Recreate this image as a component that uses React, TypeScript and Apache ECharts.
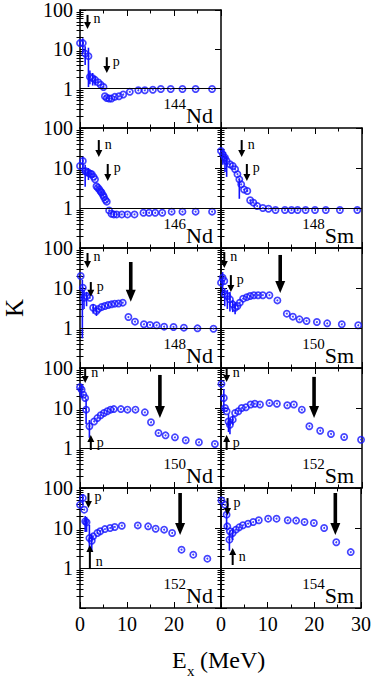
import React, { useEffect, useRef } from 'react';
import * as echarts from 'echarts';

const FONT = '"Liberation Serif", "Times New Roman", serif';
const BLUE = '#1414ff';

// x axis
const xMin = 0;
const xMax = 30;
const xInterval = 10;
// y axis (log)
const yMin = 0.1;
const yMax = 100;
const yMajorTicks = [0.1, 1, 10, 100];
const yMinorTicks = [0.2, 0.3, 0.4, 0.5, 0.6, 0.7, 0.8, 0.9, 2, 3, 4, 5, 6, 7, 8, 9, 20, 30, 40, 50, 60, 70, 80, 90];
const yLabelValues = [1, 10, 100];

// data: [Ex (MeV), K]
const nd144 = [[0, 14.4], [0.6, 14.4], [1.1, 7.8], [1.8, 6.7], [2.1, 2.0], [2.7, 1.85], [3.2, 1.68], [3.9, 1.44], [4.4, 1.26], [5.0, 1.1], [5.3, 0.64], [5.7, 0.58], [6.2, 0.56], [6.7, 0.56], [7.4, 0.62], [8.3, 0.64], [9.2, 0.71], [10.6, 0.83], [12.4, 0.91], [13.8, 0.91], [15.5, 0.94], [17.2, 0.98], [19.3, 0.98], [21.8, 0.98], [24.6, 0.98], [28.1, 0.98]];
const nd146 = [[0, 11.2], [0.6, 15], [1.1, 8.4], [1.5, 7.8], [1.8, 7.6], [2.2, 7.2], [2.5, 7.0], [2.9, 6.0], [3.2, 5.2], [3.5, 3.5], [3.8, 3.2], [4.1, 2.9], [4.4, 2.6], [4.6, 2.4], [4.9, 2.1], [5.1, 1.88], [5.4, 1.6], [5.7, 1.44], [6.2, 0.87], [6.7, 0.72], [7.2, 0.69], [7.8, 0.69], [8.9, 0.69], [10.1, 0.69], [11.6, 0.69], [13.5, 0.76], [14.7, 0.76], [16.0, 0.76], [17.5, 0.76], [19.5, 0.81], [21.8, 0.81], [24.6, 0.81], [28.1, 0.81]];
const sm148 = [[0, 26.7], [0.4, 22], [0.85, 18], [1.2, 15], [1.9, 12.4], [2.5, 11.2], [3.0, 9.3], [3.5, 7.0], [3.9, 5.2], [4.3, 3.9], [4.9, 2.9], [5.6, 2.66], [6.2, 1.56], [6.9, 1.36], [7.7, 1.12], [8.9, 1.0], [10.1, 0.96], [11.6, 0.89], [13.6, 0.89], [15.0, 0.89], [16.3, 0.89], [18.0, 0.89], [20.0, 0.89], [22.3, 0.89], [25.3, 0.89], [29.0, 0.89]];
const nd148 = [[0.15, 20], [0.6, 10.2], [0.85, 5.7], [1.4, 6.3], [2.1, 5.7], [2.8, 3.2], [3.5, 2.66], [3.9, 3.0], [4.6, 3.35], [5.3, 3.55], [6.0, 3.75], [6.7, 3.9], [7.4, 4.05], [8.2, 4.1], [9.1, 4.3], [10.3, 1.88], [11.7, 1.44], [13.6, 1.24], [14.9, 1.19], [16.3, 1.17], [17.9, 1.08], [19.9, 1.06], [22.1, 1.02], [25.0, 0.98], [28.4, 0.96]];
const sm150 = [[0, 13.6], [0.35, 18.1], [0.7, 15], [0.8, 7.0], [1.35, 6.3], [1.9, 5.2], [2.5, 3.9], [3.0, 3.2], [3.5, 3.55], [4.0, 4.3], [4.7, 5.4], [5.5, 5.9], [6.2, 6.3], [7.0, 6.6], [7.9, 6.6], [8.9, 6.6], [10.3, 6.6], [12.0, 4.9], [14.0, 2.28], [15.3, 1.92], [16.7, 1.65], [18.2, 1.5], [20.4, 1.41], [22.6, 1.31], [25.7, 1.24], [29.2, 1.17]];
const nd150 = [[0, 33], [0.35, 28.7], [0.7, 21.5], [1.1, 17.8], [1.3, 9.1], [2.0, 3.5], [3.0, 4.6], [3.7, 5.6], [4.4, 6.6], [5.1, 7.5], [5.8, 8.3], [6.5, 9.1], [7.2, 9.4], [8.7, 9.4], [10.1, 9.1], [11.8, 9.1], [13.8, 7.8], [15.1, 4.4], [16.7, 2.37], [18.2, 2.07], [20.2, 1.85], [22.5, 1.56], [25.3, 1.39], [28.7, 1.26]];
const sm152 = [[0.1, 40], [0.6, 17.8], [0.85, 10], [1.2, 8.3], [1.6, 4.6], [1.9, 3.8], [2.5, 5.1], [3.0, 7.5], [3.7, 8.3], [4.4, 10], [5.3, 10.4], [6.3, 12.2], [7.2, 12.8], [8.3, 12.2], [10.3, 13.3], [11.9, 12.8], [14.1, 11.7], [15.5, 12.2], [17.2, 9.1], [18.8, 3.5], [21.1, 2.7], [23.4, 2.24], [26.2, 1.88], [29.8, 1.61]];
const nd152 = [[0, 38], [0.6, 56], [0.9, 28.7], [1.1, 14.7], [1.4, 13.9], [2.0, 5.6], [2.5, 4.8], [2.8, 6.2], [3.7, 7.5], [4.3, 8.3], [5.3, 9.4], [6.4, 10], [7.4, 10.6], [8.9, 11.4], [12.3, 11.6], [14.5, 11], [16.1, 9.6], [17.9, 9.1], [19.6, 7.5], [21.6, 2.87], [24.1, 2.15], [27.1, 1.71]];
const sm154 = [[0.1, 49], [0.85, 38], [1.2, 21.5], [1.35, 11], [1.9, 8.3], [1.8, 5.1], [2.5, 7.5], [3.2, 9.1], [3.9, 10.4], [4.7, 11.7], [5.8, 12.8], [6.9, 14.1], [8.1, 15.6], [10.1, 17.1], [11.9, 17.1], [14.3, 15.6], [16.1, 15.3], [17.9, 14.1], [19.9, 13.3], [22.1, 10], [24.7, 4.4], [27.8, 2.5]];

// error bars: [Ex, low, high]
const nd144Err = [[0.6, 8, 19], [1.1, 4, 12], [1.8, 1.1, 11], [2.1, 1.3, 2.9], [2.7, 1.2, 2.5], [3.2, 1.2, 2.1]];
const nd146Err = [[0.6, 8, 19], [1.1, 3.4, 12], [1.8, 5, 10]];
const sm148Err = [[0.4, 12, 30], [0.85, 8, 25], [1.2, 6, 20], [3.9, 1.7, 5.5]];
const nd148Err = [[0.5, 0.55, 16], [0.85, 3, 9], [1.4, 3.5, 8], [2.8, 2.3, 4], [3.5, 2.0, 3.3]];
const sm150Err = [[0.35, 7, 25], [0.8, 3.5, 10], [1.35, 3, 9], [1.9, 2.6, 8], [2.5, 2.5, 5], [3.0, 2.2, 4.4]];
const nd150Err = [[0.35, 18, 40], [1.3, 4, 17], [2.0, 1.8, 5]];
const sm152Err = [[0.6, 8, 30], [1.6, 2.5, 7], [1.9, 2.2, 5.5], [2.5, 3.8, 6.5]];
const nd152Err = [[0.6, 40, 70], [1.1, 8, 20], [1.4, 8, 19], [2.0, 2.6, 12], [2.5, 2.6, 7]];
const sm154Err = [[1.2, 10, 35], [1.8, 2.7, 8], [2.5, 5, 10]];

// threshold arrows: Ex, tail K, head K, label, big
type Arrow = { E: number; from: number; to: number; label: string; big: boolean };
const nd144Arrows: Arrow[] = [
  { E: 1.6, from: 75, to: 33, label: 'n', big: false },
  { E: 5.7, from: 6.3, to: 2.5, label: 'p', big: false },
];
const nd146Arrows: Arrow[] = [
  { E: 4.0, from: 50, to: 18.8, label: 'n', big: false },
  { E: 5.9, from: 12.6, to: 4.7, label: 'p', big: false },
];
const sm148Arrows: Arrow[] = [
  { E: 4.4, from: 50, to: 18.8, label: 'n', big: false },
  { E: 5.5, from: 12.6, to: 4.7, label: 'p', big: false },
];
const nd148Arrows: Arrow[] = [
  { E: 1.6, from: 75, to: 31.6, label: 'n', big: false },
  { E: 2.3, from: 14.1, to: 6.0, label: 'p', big: false },
  { E: 10.8, from: 44.7, to: 4.5, label: '', big: true },
];
const sm150Arrows: Arrow[] = [
  { E: 0.7, from: 79, to: 31.6, label: 'n', big: false },
  { E: 2.1, from: 21, to: 7.9, label: 'p', big: false },
  { E: 12.6, from: 67, to: 7.5, label: '', big: true },
];
const nd150Arrows: Arrow[] = [
  { E: 1.1, from: 100, to: 42, label: 'n', big: false },
  { E: 2.3, from: 0.89, to: 2.1, label: 'p', big: false },
  { E: 17, from: 67, to: 5.6, label: '', big: true },
];
const sm152Arrows: Arrow[] = [
  { E: 1.2, from: 100, to: 44.7, label: 'n', big: false },
  { E: 1.2, from: 0.89, to: 2.1, label: 'p', big: false },
  { E: 19.8, from: 60, to: 5.6, label: '', big: true },
];
const nd152Arrows: Arrow[] = [
  { E: 1.8, from: 75, to: 31.6, label: 'p', big: false },
  { E: 2.1, from: 0.94, to: 3.76, label: 'n', big: false },
  { E: 21.3, from: 75, to: 6.7, label: '', big: true },
];
const sm154Arrows: Arrow[] = [
  { E: 1.4, from: 56, to: 21, label: 'p', big: false },
  { E: 2.5, from: 1.19, to: 3.16, label: 'n', big: false },
  { E: 24.5, from: 75, to: 6.7, label: '', big: true },
];

const panels = [
  { mass: '144', el: 'Nd', row: 0, col: 0, data: nd144, err: nd144Err, arrows: nd144Arrows },
  { mass: '146', el: 'Nd', row: 1, col: 0, data: nd146, err: nd146Err, arrows: nd146Arrows },
  { mass: '148', el: 'Sm', row: 1, col: 1, data: sm148, err: sm148Err, arrows: sm148Arrows },
  { mass: '148', el: 'Nd', row: 2, col: 0, data: nd148, err: nd148Err, arrows: nd148Arrows },
  { mass: '150', el: 'Sm', row: 2, col: 1, data: sm150, err: sm150Err, arrows: sm150Arrows },
  { mass: '150', el: 'Nd', row: 3, col: 0, data: nd150, err: nd150Err, arrows: nd150Arrows },
  { mass: '152', el: 'Sm', row: 3, col: 1, data: sm152, err: sm152Err, arrows: sm152Arrows },
  { mass: '152', el: 'Nd', row: 4, col: 0, data: nd152, err: nd152Err, arrows: nd152Arrows },
  { mass: '154', el: 'Sm', row: 4, col: 1, data: sm154, err: sm154Err, arrows: sm154Arrows },
];

// layout
const COL_LEFT = [80, 221];
const ROW_TOP = [8, 128, 248, 368, 488];
const PW = 141;
const PH = 120;
const LAST_ROW = 4;

function buildOption() {
  const grid: any[] = [];
  const xAxis: any[] = [];
  const yAxis: any[] = [];
  const series: any[] = [];
  const graphic: any[] = [];

  panels.forEach((p, i) => {
    const left = COL_LEFT[p.col];
    const top = ROW_TOP[p.row];
    grid.push({ left, top, width: PW, height: PH, containLabel: false });

    const xBase = {
      type: 'value', gridIndex: i, min: xMin, max: xMax, interval: xInterval,
      axisLine: { show: true, onZero: false, lineStyle: { color: '#000', width: 1.5 } },
      axisTick: { show: true, inside: true, length: 6, lineStyle: { color: '#000', width: 1 } },
      minorTick: { show: true, splitNumber: 2, length: 3.5, lineStyle: { color: '#000', width: 1 } },
      splitLine: { show: false }, minorSplitLine: { show: false },
    };
    xAxis.push({
      ...xBase, position: 'bottom',
      axisLabel: p.row === LAST_ROW ? {
        show: true, margin: 6, fontSize: 20, fontFamily: FONT, color: '#000',
        showMinLabel: true, showMaxLabel: true,
        formatter: (v: number) => (p.col === 0 && v === 30 ? '' : String(v)),
      } : { show: false },
    });
    xAxis.push({ ...xBase, position: 'top', axisLabel: { show: false } });

    const yBase = {
      type: 'log', logBase: 10, gridIndex: i, min: yMin, max: yMax,
      splitLine: { show: false }, minorSplitLine: { show: false },
    };
    const majorTick = { show: true, inside: true, length: 6, customValues: yMajorTicks, lineStyle: { color: '#000', width: 1 } };
    const minorTick = { show: true, inside: true, length: 3.5, customValues: yMinorTicks, lineStyle: { color: '#000', width: 1 } };
    const axisLine = { show: true, onZero: false, lineStyle: { color: '#000', width: 1.5 } };
    yAxis.push({
      ...yBase, position: 'left', axisLine, axisTick: majorTick,
      axisLabel: p.col === 0 ? {
        show: true, margin: 7, fontSize: 20, fontFamily: FONT, color: '#000',
        customValues: yLabelValues, showMinLabel: true, showMaxLabel: true,
        formatter: (v: number) => String(Math.round(v)),
      } : { show: false },
    });
    yAxis.push({ ...yBase, position: 'left', axisLine: { show: false }, axisTick: minorTick, axisLabel: { show: false } });
    yAxis.push({ ...yBase, position: 'right', axisLine, axisTick: majorTick, axisLabel: { show: false } });
    yAxis.push({ ...yBase, position: 'right', axisLine: { show: false }, axisTick: minorTick, axisLabel: { show: false } });

    const xi = 2 * i;
    const yi = 4 * i;

    series.push({
      type: 'custom', xAxisIndex: xi, yAxisIndex: yi, silent: true, clip: false,
      data: p.err.map((e) => [e[0], e[1], e[2]]),
      encode: { x: 0, y: [1, 2] },
      renderItem: (_params: any, api: any) => {
        const a = api.coord([api.value(0), api.value(1)]);
        const b = api.coord([api.value(0), api.value(2)]);
        return { type: 'line', shape: { x1: a[0], y1: a[1], x2: b[0], y2: b[1] }, style: { stroke: BLUE, lineWidth: 1.6 } };
      },
      z: 3,
    });
    series.push({
      type: 'scatter', xAxisIndex: xi, yAxisIndex: yi, silent: true,
      data: p.data, symbol: 'circle', symbolSize: 6.2,
      itemStyle: { color: 'rgba(0,0,0,0)', borderColor: BLUE, borderWidth: 1.7 },
      markLine: {
        silent: true, symbol: 'none', label: { show: false },
        lineStyle: { color: '#000', width: 1, type: 'solid' },
        data: [{ yAxis: 1 }],
      },
      z: 4,
    });
    series.push({
      type: 'scatter', xAxisIndex: xi, yAxisIndex: yi, silent: true,
      data: p.data, symbol: 'circle', symbolSize: 2,
      itemStyle: { color: BLUE },
      z: 5,
    });
    const arrows = p.arrows;
    series.push({
      type: 'custom', xAxisIndex: xi, yAxisIndex: yi, silent: true, clip: false,
      data: arrows.map((a) => [a.E, a.from, a.to]),
      encode: { x: 0, y: [1, 2] },
      renderItem: (params: any, api: any) => {
        const a = arrows[params.dataIndex];
        const p1 = api.coord([a.E, a.from]);
        const p2 = api.coord([a.E, a.to]);
        const dir = p2[1] > p1[1] ? 1 : -1;
        const hl = a.big ? 12 : 7;
        const hw = a.big ? 10 : 7;
        const sw = a.big ? 3.6 : 2;
        const children: any[] = [
          { type: 'line', shape: { x1: p1[0], y1: p1[1], x2: p2[0], y2: p2[1] - dir * (hl - 1) }, style: { stroke: '#000', lineWidth: sw } },
          { type: 'polygon', shape: { points: [[p2[0] - hw / 2, p2[1] - dir * hl], [p2[0] + hw / 2, p2[1] - dir * hl], [p2[0], p2[1]]] }, style: { fill: '#000' } },
        ];
        if (a.label) {
          const dy = dir > 0 ? 4 : -8;
          children.push({
            type: 'text', x: p1[0] + 6, y: p1[1] + dy,
            style: { text: a.label, fill: '#000', fontSize: 14, fontFamily: FONT, align: 'left', verticalAlign: 'middle', textAlign: 'left', textVerticalAlign: 'middle' },
          });
        }
        return { type: 'group', children };
      },
      z: 6,
    });

    // isotope label
    const rx = left + PW - 8;
    const elW = p.el === 'Nd' ? 26.9 : 29.3;
    graphic.push({
      type: 'text', x: rx, y: top + 107, z: 10,
      style: { text: p.el, fill: '#000', fontSize: 22, fontFamily: FONT, align: 'right', verticalAlign: 'middle', textAlign: 'right', textVerticalAlign: 'middle' },
    });
    graphic.push({
      type: 'text', x: rx - elW, y: top + 96, z: 10,
      style: { text: p.mass, fill: '#000', fontSize: 15, fontFamily: FONT, align: 'right', verticalAlign: 'middle', textAlign: 'right', textVerticalAlign: 'middle' },
    });
  });

  graphic.push({
    type: 'text', x: 14, y: 308, rotation: Math.PI / 2,
    style: { text: 'K', fill: '#000', fontSize: 25, fontFamily: FONT, align: 'center', verticalAlign: 'middle', textAlign: 'center', textVerticalAlign: 'middle' },
  });
  graphic.push({
    type: 'text', x: 172, y: 660,
    style: { text: 'E', fill: '#000', fontSize: 24, fontFamily: FONT, align: 'left', verticalAlign: 'middle', textAlign: 'left', textVerticalAlign: 'middle' },
  });
  graphic.push({
    type: 'text', x: 187, y: 671,
    style: { text: 'x', fill: '#000', fontSize: 15, fontFamily: FONT, align: 'left', verticalAlign: 'middle', textAlign: 'left', textVerticalAlign: 'middle' },
  });
  graphic.push({
    type: 'text', x: 200, y: 660,
    style: { text: '(MeV)', fill: '#000', fontSize: 24, fontFamily: FONT, align: 'left', verticalAlign: 'middle', textAlign: 'left', textVerticalAlign: 'middle' },
  });

  return { animation: false, backgroundColor: '#fff', grid, xAxis, yAxis, series, graphic };
}

export default function App() {
  const ref = useRef<HTMLDivElement>(null);
  useEffect(() => {
    if (!ref.current) return;
    const chart = echarts.init(ref.current, undefined, { renderer: 'svg' });
    chart.setOption(buildOption() as any);
    return () => chart.dispose();
  }, []);
  return <div ref={ref} style={{ position: 'absolute', left: 0, top: 0, width: 374, height: 680 }} />;
}
